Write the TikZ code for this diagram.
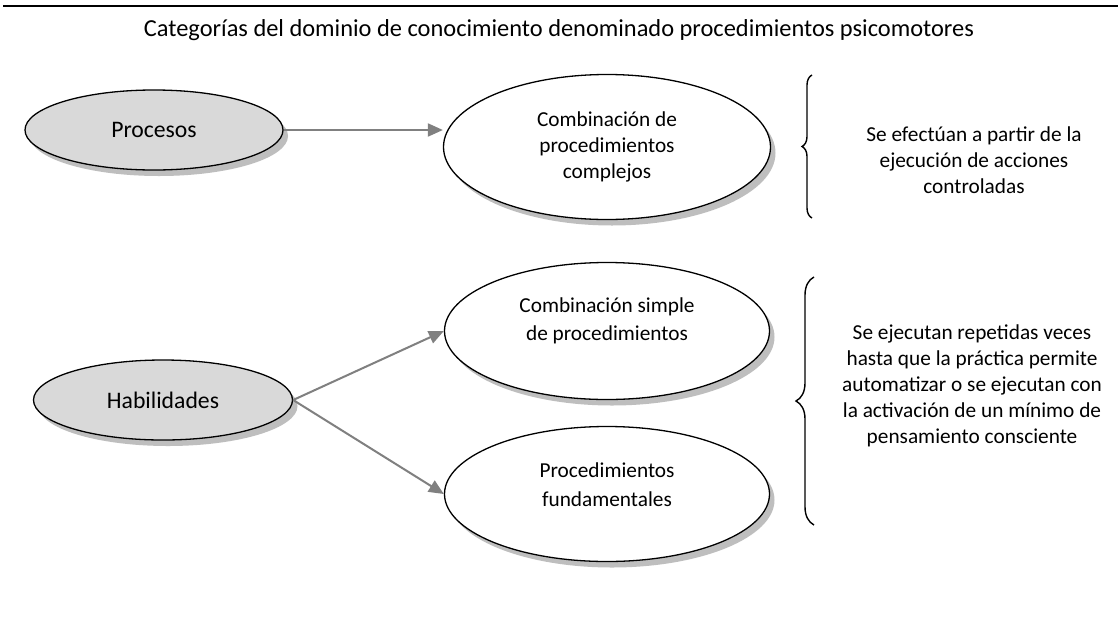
\documentclass[tikz,border=0pt]{standalone}
\usepackage{fontspec}
\setmainfont{Carlito}
\usetikzlibrary{shapes.geometric,shadows,arrows.meta,decorations.pathreplacing}
\definecolor{fillgray}{HTML}{D9D9D9}
\definecolor{shadowgray}{HTML}{BEBEBE}
\definecolor{arrowgray}{HTML}{808080}
\tikzset{
  oval/.style={ellipse, draw=black, line width=1.3pt, inner sep=0pt,
    drop shadow={shadow xshift=5pt, shadow yshift=-6pt, fill=shadowgray, opacity=1}},
  catoval/.style={oval, fill=fillgray, font=\fontsize{23.7}{28}\selectfont},
  subeoval/.style={oval, fill=white, align=center, font=\fontsize{21.3}{26}\selectfont},
  conn/.style={draw=arrowgray, line width=2pt, -{Triangle[length=15pt,width=13pt]}},
  bracestyle/.style={draw=black, line width=1.4pt, decorate},
  desc/.style={align=center, font=\fontsize{21.3}{26}\selectfont, inner sep=0pt},
}
\begin{document}
\begin{tikzpicture}[x=1pt,y=-1pt]
\useasboundingbox[fill=white] (0,0) rectangle (1118,643);
\coordinate (ruleL) at (3,6);
\coordinate (ruleR) at (1118,6);
\draw[line width=2.5pt] (ruleL) -- (ruleR);
\node[font=\fontsize{24.4}{29}\selectfont, inner sep=0pt] (title) at (559,30) {Categorías del dominio de conocimiento denominado procedimientos psicomotores};

\node[catoval, minimum width=258pt, minimum height=80pt] (proc) at (154,130) {Procesos};
\node[catoval, minimum width=259pt, minimum height=80pt] (hab) at (163,400) {Habilidades};

\node[subeoval, minimum width=327pt, minimum height=145pt] (e1) at (607,147) {Combinación de\\procedimientos\\complejos};
\node[subeoval, minimum width=325pt, minimum height=137pt,
  label={[name=e2t, align=center, font=\fontsize{21.3}{28}\selectfont, yshift=10pt]center:Combinación simple\\de procedimientos}] (e2) at (607,331) {};
\node[subeoval, minimum width=325pt, minimum height=135pt,
  label={[name=e3t, align=center, font=\fontsize{21.3}{29}\selectfont, yshift=9pt]center:Procedimientos\\fundamentales}] (e3) at (607,494) {};

\draw[conn] (proc.east) -- (proc.east -| e1.west);
\draw[conn] (hab.east) -- (e2.west);
\draw[conn] (hab.east) -- (e3.west);

\coordinate (b1bot) at (812,218);
\coordinate (b1top) at (812,75);
\draw[bracestyle, decoration={brace, amplitude=10pt}] (b1bot) -- (b1top);
\coordinate (b2bot) at (814,525);
\coordinate (b2top) at (814,277);
\draw[bracestyle, decoration={brace, amplitude=18pt}] (b2bot) -- (b2top);

\node[desc] (t1) at (974,160) {Se efectúan a partir de la\\ejecución de acciones\\controladas};
\node[desc] (t2) at (972,386) {Se ejecutan repetidas veces\\hasta que la práctica permite\\automatizar o se ejecutan con\\la activación de un mínimo de\\pensamiento consciente};
\end{tikzpicture}
\end{document}
